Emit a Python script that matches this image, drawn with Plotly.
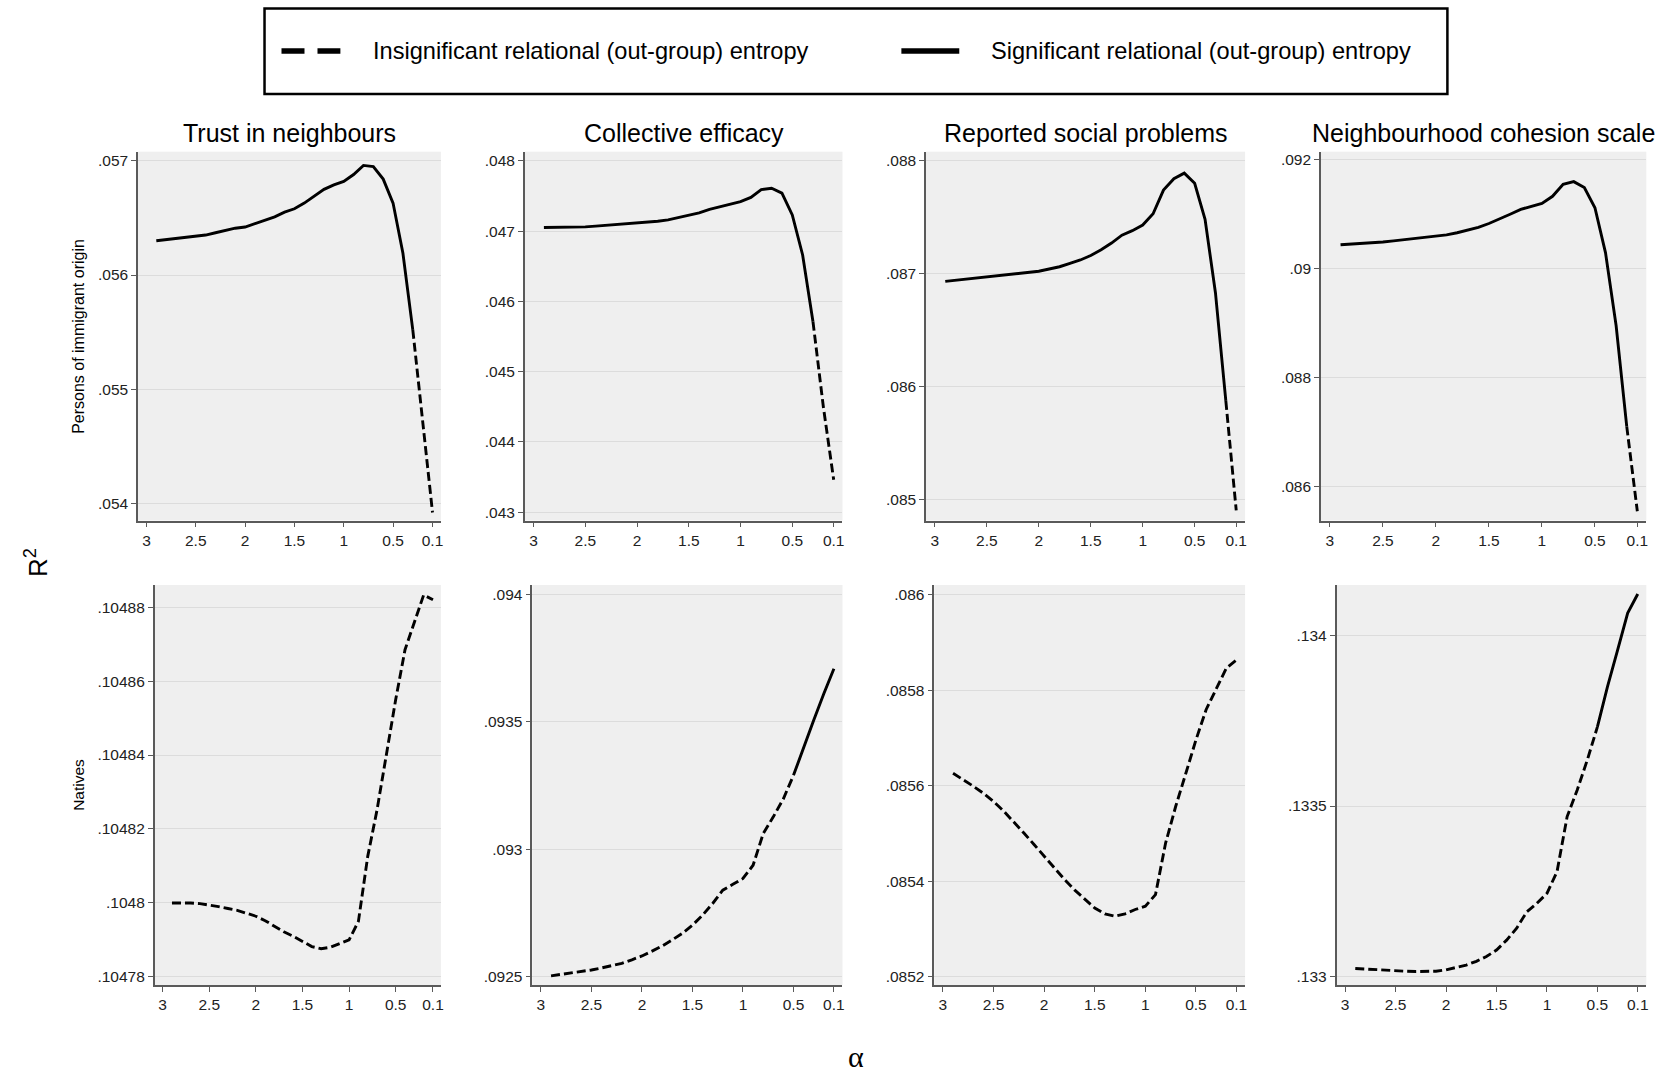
import plotly.graph_objects as go

# ---------------- DATA ----------------
alpha = [2.9, 2.8, 2.7, 2.6, 2.5, 2.4, 2.3, 2.2, 2.1, 2.0, 1.9, 1.8, 1.7, 1.6, 1.5,
         1.4, 1.3, 1.2, 1.1, 1.0, 0.9, 0.8, 0.7, 0.6, 0.5, 0.4, 0.3, 0.2, 0.1]

outcomes = ["Trust in neighbours", "Collective efficacy",
            "Reported social problems", "Neighbourhood cohesion scale"]
groups = ["Persons of immigrant origin", "Natives"]

trust_imm = [.05630, .05631, .05632, .05633, .05634, .05635, .05637, .05639, .05641, .05642,
             .05645, .05648, .05651, .05655, .05658, .05663, .05669, .05675, .05679, .05682,
             .05688, .05696, .05695, .05684, .05663, .05619, .05552, .05473, .05392]
coll_imm = [.04705, .04705, .04706, .04706, .04706, .04707, .04708, .04709, .04710, .04711,
            .04712, .04714, .04716, .04719, .04722, .04726, .04731, .04735, .04738, .04742,
            .04748, .04759, .04761, .04754, .04723, .04666, .04571, .04450, .04346]
social_imm = [.08693, .08694, .08695, .08696, .08697, .08698, .08699, .08700, .08701, .08702,
              .08704, .08706, .08709, .08712, .08716, .08721, .08727, .08734, .08738, .08743,
              .08753, .08774, .08784, .08789, .08780, .08748, .08683, .08587, .08490]
cohesion_imm = [.09044, .09045, .09046, .09048, .09049, .09051, .09053, .09055, .09057, .09059,
                .09062, .09066, .09071, .09076, .09083, .09091, .09100, .09109, .09114, .09120,
                .09133, .09155, .09160, .09149, .09112, .09029, .08895, .08710, .08554]

trust_nat = [.1048000, .1048001, .1048000, .1047998, .1047995, .1047990, .1047985, .1047980, .1047972, .1047964,
             .1047952, .1047937, .1047922, .1047910, .1047895, .1047882, .1047876, .1047880, .1047890, .1047900,
             .1047950, .1048126, .1048252, .1048405, .1048550, .1048685, .1048757, .1048833, .1048820]
coll_nat = [.092503, .092508, .092514, .092520, .092526, .092534, .092543, .092552, .092566, .092581,
            .092600, .092620, .092644, .092670, .092702, .092741, .092787, .092839, .092862, .092885,
            .092937, .093061, .093127, .093198, .093290, .093401, .093506, .093610, .093708]
social_nat = [.085626, .085613, .085599, .085584, .085567, .085547, .085525, .085501, .085477, .085452,
              .085428, .085404, .085382, .085362, .085344, .085332, .085327, .085332, .085341, .085348,
              .085372, .085480, .085557, .085626, .085696, .085759, .085804, .085846, .085863]
cohesion_nat = [.133024, .133022, .133020, .133019, .133018, .133016, .133015, .133015, .133016, .133020,
                .133026, .133034, .133045, .133059, .133078, .133107, .133142, .133190, .133215, .133244,
                .133308, .133469, .133547, .133635, .133732, .133850, .133957, .134065, .134121]

# significance: alpha interval [low, high] where out-group entropy is significant (None = never)
sig_imm = [(0.3, 2.9), (0.3, 2.9), (0.2, 2.9), (0.2, 2.9)]
sig_nat = [None, (0.1, 0.5), None, (0.1, 0.5)]

legend_labels = ["Insignificant relational (out-group) entropy",
                 "Significant relational (out-group) entropy"]

x_tickvals = [3, 2.5, 2, 1.5, 1, 0.5, 0.1]
x_ticktext = ["3", "2.5", "2", "1.5", "1", "0.5", "0.1"]

ytick_imm = [
    ([.054, .055, .056, .057], [".054", ".055", ".056", ".057"]),
    ([.043, .044, .045, .046, .047, .048], [".043", ".044", ".045", ".046", ".047", ".048"]),
    ([.085, .086, .087, .088], [".085", ".086", ".087", ".088"]),
    ([.086, .088, .090, .092], [".086", ".088", ".09", ".092"]),
]
ytick_nat = [
    ([.10478, .1048, .10482, .10484, .10486, .10488], [".10478", ".1048", ".10482", ".10484", ".10486", ".10488"]),
    ([.0925, .093, .0935, .094], [".0925", ".093", ".0935", ".094"]),
    ([.0852, .0854, .0856, .0858, .086], [".0852", ".0854", ".0856", ".0858", ".086"]),
    ([.133, .1335, .134], [".133", ".1335", ".134"]),
]

# ---------------- LAYOUT CONSTANTS ----------------
W, H = 1671, 1072
yr_imm = [(.05385, .05708), (.04288, .04813), (.08481, .08808), (.08537, .09215)]
yr_nat = [(.1047778, .104886), (.092467, .094037), (.085183, .08602), (.1329756, .1341475)]
xdom_top = [(138.3, 441.7), (525.7, 844), (927.7, 1247.3), (1323.3, 1649.3)]
xdom_bot = [(155, 441.7), (533.3, 844), (936, 1247.3), (1339, 1649.3)]
ydom_top = (151.7, 520.5)
ydom_bot = (585, 985)

FONT = "Liberation Sans, Arial, Helvetica, sans-serif"
LINE_W = 2.9
DASH = "9px,4px"
TICK_SIZE = 15.5

fig = go.Figure()


def segments(ys, sig):
    """Split a curve into runs; a segment is solid only if both its ends are significant."""
    flags = [(sig is not None and sig[0] - 1e-9 <= a <= sig[1] + 1e-9) for a in alpha]
    seg_solid = [flags[i] and flags[i + 1] for i in range(len(alpha) - 1)]
    runs = []
    start = 0
    for i in range(1, len(seg_solid) + 1):
        if i == len(seg_solid) or seg_solid[i] != seg_solid[start]:
            runs.append((seg_solid[start], alpha[start:i + 1], ys[start:i + 1]))
            start = i
    return runs


series_rows = [[trust_imm, coll_imm, social_imm, cohesion_imm],
               [trust_nat, coll_nat, social_nat, cohesion_nat]]
sig_rows = [sig_imm, sig_nat]
tick_rows = [ytick_imm, ytick_nat]
yr_rows = [yr_imm, yr_nat]
xdom_rows = [xdom_top, xdom_bot]
ydom_rows = [ydom_top, ydom_bot]

annotations = []
n = 0
for r in range(2):
    for c in range(4):
        n += 1
        suffix = "" if n == 1 else str(n)
        xa, ya = "x" + suffix, "y" + suffix
        for is_sig, xs, ys in segments(series_rows[r][c], sig_rows[r][c]):
            fig.add_trace(go.Scatter(
                x=xs, y=ys, mode="lines", xaxis=xa, yaxis=ya,
                line=dict(color="black", width=LINE_W, dash="solid" if is_sig else DASH),
                name=legend_labels[1] if is_sig else legend_labels[0],
                showlegend=False, hoverinfo="x+y",
            ))
        x0, x1 = xdom_rows[r][c]
        y0, y1 = ydom_rows[r]
        tv, tt = tick_rows[r][c]
        fig.update_layout(**{
            "xaxis" + suffix: dict(
                domain=[x0 / W, x1 / W], anchor=ya, range=[3.085, 0.015],
                tickvals=x_tickvals, ticktext=x_ticktext, showgrid=False, zeroline=False,
                showline=True, linecolor="#5a5a5a", linewidth=1.5, ticks="outside",
                ticklen=5, tickcolor="#5a5a5a",
                tickfont=dict(size=TICK_SIZE, color="#222", family=FONT),
            ),
            "yaxis" + suffix: dict(
                domain=[1 - y1 / H, 1 - y0 / H], anchor=xa, range=list(yr_rows[r][c]),
                tickvals=tv, ticktext=tt, showgrid=True, gridcolor="#dcdcdc", gridwidth=1.2,
                zeroline=False, showline=True, linecolor="#5a5a5a", linewidth=1.5,
                ticks="outside", ticklen=5, tickcolor="#5a5a5a",
                tickfont=dict(size=TICK_SIZE, color="#222", family=FONT),
            ),
        })
        if r == 0:
            annotations.append(dict(
                text=outcomes[c], x=(x0 + x1) / 2 / W, y=1 - 133 / H, xref="paper", yref="paper",
                showarrow=False, xanchor="center", yanchor="middle",
                font=dict(size=25, color="black", family=FONT)))

annotations += [
    dict(text=groups[0], x=78 / W, y=1 - 336 / H, xref="paper", yref="paper", showarrow=False,
         textangle=-90, xanchor="center", yanchor="middle", font=dict(size=16, color="black", family=FONT)),
    dict(text=groups[1], x=78 / W, y=1 - 785 / H, xref="paper", yref="paper", showarrow=False,
         textangle=-90, xanchor="center", yanchor="middle", font=dict(size=15.5, color="black", family=FONT)),
    dict(text="R<sup>2</sup>", x=36 / W, y=1 - 562 / H, xref="paper", yref="paper", showarrow=False,
         textangle=-90, xanchor="center", yanchor="middle", font=dict(size=26, color="black", family=FONT)),
    dict(text="α", x=858 / W, y=1 - 1056 / H, xref="paper", yref="paper", showarrow=False,
         xanchor="center", yanchor="middle",
         font=dict(size=30, color="black", family="Liberation Serif, Times New Roman, serif")),
    # legend labels
    dict(text=legend_labels[0], x=372 / W, y=1 - 51 / H, xref="paper", yref="paper", showarrow=False,
         xanchor="left", yanchor="middle", font=dict(size=23.6, color="black", family=FONT)),
    dict(text=legend_labels[1], x=991 / W, y=1 - 51 / H, xref="paper", yref="paper", showarrow=False,
         xanchor="left", yanchor="middle", font=dict(size=23.6, color="black", family=FONT)),
]

shapes = [
    dict(type="rect", xref="paper", yref="paper",
         x0=265 / W, x1=1450 / W, y0=1 - 94 / H, y1=1 - 8.5 / H,
         line=dict(color="black", width=2.5), fillcolor="rgba(0,0,0,0)"),
    # legend keys
    dict(type="line", xref="paper", yref="paper", x0=282 / W, x1=341 / W, y0=1 - 51 / H, y1=1 - 51 / H,
         line=dict(color="black", width=5.5, dash="23px,13px")),
    dict(type="line", xref="paper", yref="paper", x0=903 / W, x1=961 / W, y0=1 - 51 / H, y1=1 - 51 / H,
         line=dict(color="black", width=5.5)),
]

fig.update_layout(
    width=W, height=H, margin=dict(l=0, r=0, t=0, b=0),
    paper_bgcolor="white", plot_bgcolor="#efefef",
    font=dict(family=FONT, color="black"),
    annotations=annotations, shapes=shapes, showlegend=False,
)

fig.write_html("out.html", config={"displayModeBar": False},
               post_script="document.body.style.margin='0';document.body.style.padding='0';")
